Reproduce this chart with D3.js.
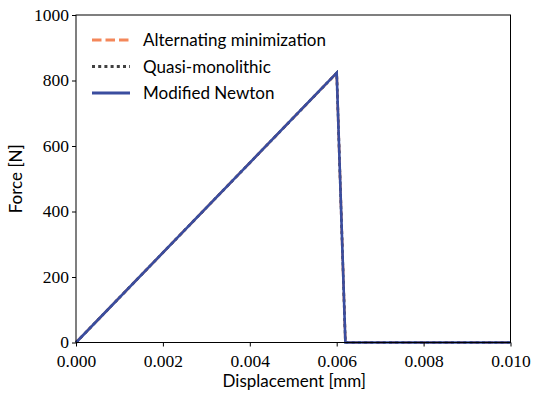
<!DOCTYPE html>
<html><head><meta charset="utf-8">
<script src="https://cdn.jsdelivr.net/npm/d3@7"></script>
<style>body{margin:0;background:#fff}</style></head>
<body><svg id="c" width="540" height="399"></svg>
<script>
const xTicks=[0,0.002,0.004,0.006,0.008,0.010];
const yTicks=[0,200,400,600,800,1000];
const dispAlt=[0,0.006,0.0062,0.010];
const forceAlt=[0,823,0,0];
const dispQM=[0,0.006,0.0062,0.010];
const forceQM=[0,823,0,0];
const dispMN=[0,0.006,0.0062,0.010];
const forceMN=[0,823,0,0];
const seriesNames=["Alternating minimization","Quasi-monolithic","Modified Newton"];

const svg=d3.select("#c");
const L=76,R=510.5,T=15,B=342.5;
const x=d3.scaleLinear().domain([0,0.01]).range([L,R]);
const y=d3.scaleLinear().domain([0,1000]).range([B,T]);
const serif="'Liberation Serif','DejaVu Serif',serif";
const sans="Lato,'Open Sans',sans-serif";

const series=[
 {d:dispAlt,f:forceAlt,color:"#f4875a",dash:"9.5,4",w:2.6},
 {d:dispQM,f:forceQM,color:"#404040",dash:"3,3.2",w:2.6},
 {d:dispMN,f:forceMN,color:"#3a4d9f",dash:null,w:2.6}
];
const line=d3.line();
series.forEach(s=>{
  svg.append("path").attr("d",line(s.d.map((v,i)=>[x(v),y(s.f[i])])))
   .attr("fill","none").attr("stroke",s.color).attr("stroke-width",s.w)
   .attr("stroke-dasharray",s.dash);
});

const xa=svg.append("g").attr("transform",`translate(0,${B})`)
 .call(d3.axisBottom(x).tickValues(xTicks).tickFormat(d3.format(".3f")).tickSizeOuter(0).tickSize(4));
const ya=svg.append("g").attr("transform",`translate(${L},0)`)
 .call(d3.axisLeft(y).tickValues(yTicks).tickFormat(d3.format("d")).tickSizeOuter(0).tickSize(4));
[xa,ya].forEach(a=>{a.select(".domain").remove();a.selectAll("text").attr("font-family",serif).attr("font-size",17.5).attr("fill","#000");a.selectAll("line").attr("stroke","#000");});
xa.selectAll("text").attr("dy","1.0em");
ya.selectAll("text").attr("dy","0.3em");
svg.append("rect").attr("x",L).attr("y",T).attr("width",R-L).attr("height",B-T)
 .attr("fill","none").attr("stroke","#000").attr("stroke-width",1);

svg.append("text").attr("x",(L+R)/2+1).attr("y",387).attr("text-anchor","middle")
 .attr("font-family",sans).attr("font-size",17).text("Displacement [mm]");
svg.append("text").attr("transform",`translate(22,${(T+B)/2}) rotate(-90)`).attr("text-anchor","middle")
 .attr("font-family",sans).attr("font-size",17).text("Force [N]");

const lg=svg.append("g");
seriesNames.forEach((n,i)=>{
  const yy=40+i*26.5;
  lg.append("line").attr("x1",92).attr("x2",130).attr("y1",yy).attr("y2",yy)
   .attr("stroke",series[i].color).attr("stroke-width",2.8).attr("stroke-dasharray",series[i].dash);
  lg.append("text").attr("x",143).attr("y",yy+6).attr("font-family",sans).attr("font-size",17).text(n);
});
</script></body></html>
